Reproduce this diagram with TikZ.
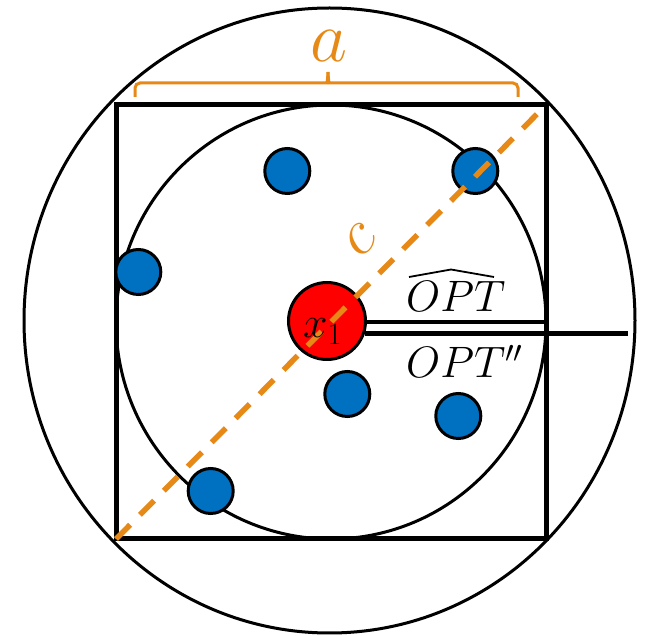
\RequirePackage{fix-cm}
\documentclass[tikz,border=0pt]{standalone}
\usepackage{amsmath}
\definecolor{borange}{RGB}{230,137,22}
\definecolor{bblue}{RGB}{0,112,192}
\begin{document}
\begin{tikzpicture}[x=1pt,y=-1pt,
  dot/.style={circle, draw=black, line width=3pt, fill=bblue, minimum size=45pt, inner sep=0pt},
  reddot/.style={circle, draw=black, line width=3pt, fill=red, minimum size=77pt, inner sep=0pt},
  thinring/.style={draw=black, line width=3pt},
  thickline/.style={draw=black, line width=4.5pt},
  diag/.style={draw=borange, line width=5.5pt, dash pattern=on 20pt off 14pt},
  bracestyle/.style={draw=borange, line width=3pt},
  hatstyle/.style={draw=black, line width=1.8pt, line join=miter},
  lbl/.style={inner sep=0pt, font=\fontsize{44}{50}\selectfont}]
\useasboundingbox (0,0) rectangle (649,636);
% outer circle
\draw[thinring] (329.5,320.5) ellipse [x radius=305.5, y radius=312.5];
% square
\coordinate (sqtl) at (116,105);
\coordinate (sqbr) at (546,539);
\coordinate (sqbl) at (116,539);
\coordinate (sqtr) at (546,105);
\draw[draw=black, line width=5pt] (sqtl) rectangle (sqbr);
% inner circle
\draw[thinring] (331,322) ellipse [x radius=215, y radius=217];
% dots
\node[dot] (d1) at (287.3,171) {};
\node[dot] (d2) at (475.3,171) {};
\node[dot] (d3) at (138.3,272) {};
\node[dot] (d4) at (347.3,394) {};
\node[dot] (d5) at (458.3,416) {};
\node[dot] (d6) at (210.7,491) {};
\node[reddot] (x1) at (327,321) {};
% horizontal lines
\coordinate (hu1) at (366,322);
\coordinate (hu2) at (546,322);
\coordinate (hl1) at (365,333.5);
\coordinate (hl2) at (628,333.5);
\draw[thickline] (hu1) -- (hu2);
\draw[thickline] (hl1) -- (hl2);
% diagonal
\draw[diag] (sqbl) -- (sqtr);
% labels
\node[lbl, anchor=base west] (x1lbl) at (303,338) {$x_1$};
\node[lbl, anchor=base west] (opthat) at (406,312) {$OPT$};
\node[lbl, anchor=base west] (optpp) at (406,378) {$OPT''$};
\node[inner sep=0pt, anchor=base, text=borange, font=\fontsize{72}{80}\selectfont] (alab) at (329,62) {$a$};
\node[inner sep=0pt, rotate=45, text=borange, font=\fontsize{64}{72}\selectfont] (clab) at (360,240) {$c$};
% hat over OPT
\coordinate (hatl) at (409,277);
\coordinate (hatp) at (451,269.5);
\coordinate (hatr) at (494,277);
\draw[hatstyle] (hatl) -- (hatp) -- (hatr);
% brace
\coordinate (bl) at (135,97);
\coordinate (br) at (518,97);
\coordinate (btip) at (328,72);
\draw[bracestyle, rounded corners=5pt] (bl) |- (322,83) to[out=0,in=-90] (btip);
\draw[bracestyle, rounded corners=5pt] (br) |- (334,83) to[out=180,in=-90] (btip);
\end{tikzpicture}
\end{document}
